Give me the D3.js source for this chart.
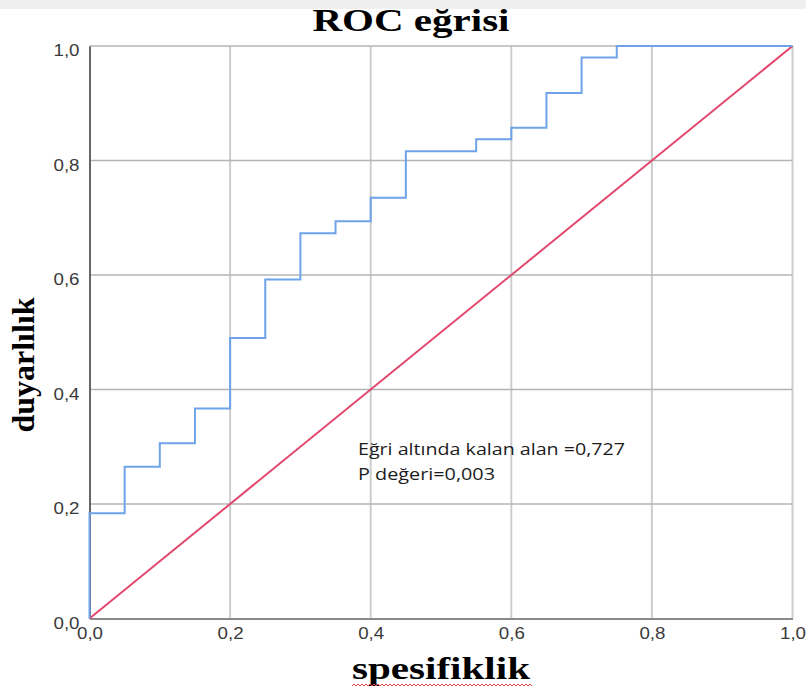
<!DOCTYPE html>
<html>
<head>
<meta charset="utf-8">
<script src="https://cdn.jsdelivr.net/npm/d3@7"></script>
<style>
  body { margin: 0; background: #fff; }
  svg { display: block; }
</style>
</head>
<body>
<script>
// ROC curve points (1 - specificity, sensitivity), drawn as a step curve
const fpr = [0, 0, 0.05, 0.10, 0.15, 0.20, 0.25, 0.30, 0.35, 0.40, 0.45, 0.55, 0.60, 0.65, 0.70, 0.75, 1.0];
const tpr = [0, 0.184, 0.265, 0.306, 0.367, 0.490, 0.592, 0.673, 0.694, 0.735, 0.816, 0.837, 0.857, 0.918, 0.980, 1.0, 1.0];
// reference diagonal
const refX = [0, 1];
const refY = [0, 1];
const ticks = [0, 0.2, 0.4, 0.6, 0.8, 1.0];
const notes = ["Eğri altında kalan alan =0,727", "P değeri=0,003"];

const width = 806, height = 690;
const svg = d3.select("body").append("svg")
  .attr("width", width)
  .attr("height", height);

// faint watermark band at the very top
const band = svg.append("g");
[[0, 115], [135, 240], [260, 360], [380, 480], [500, 620], [640, 806]].forEach(([a, b]) => {
  band.append("path")
    .attr("d", `M${a},0 H${b + 20} L${b},9 H${a - 20} Z`)
    .attr("fill", "#efefef");
});

const x = d3.scaleLinear().domain([0, 1]).range([89.5, 792.5]);
const y = d3.scaleLinear().domain([0, 1]).range([618.5, 46]);

const fmt = d => d3.format(".1f")(d).replace(".", ",");

// grid lines
svg.append("g")
  .selectAll("line")
  .data(ticks.filter(t => t > 0))
  .enter().append("line")
  .attr("x1", d => x(d)).attr("x2", d => x(d))
  .attr("y1", y(1)).attr("y2", y(0))
  .attr("stroke", "#cdcdcd")
  .attr("stroke-width", 2);

svg.append("g")
  .selectAll("line")
  .data(ticks.filter(t => t > 0))
  .enter().append("line")
  .attr("x1", x(0)).attr("x2", x(1))
  .attr("y1", d => y(d)).attr("y2", d => y(d))
  .attr("stroke", "#b4b4b4")
  .attr("stroke-width", 1.3);

// axes
const yAxis = svg.append("g")
  .attr("transform", `translate(${x(0)},0)`)
  .call(d3.axisLeft(y).tickValues(ticks).tickFormat(fmt).tickSize(0).tickPadding(10));
yAxis.select(".domain").attr("stroke", "#666").attr("stroke-width", 2);

const xAxis = svg.append("g")
  .attr("transform", `translate(0,${y(0)})`)
  .call(d3.axisBottom(x).tickValues(ticks).tickFormat(fmt).tickSize(0).tickPadding(9));
xAxis.select(".domain").attr("stroke", "#8a8a8a").attr("stroke-width", 2);

svg.selectAll(".tick text")
  .attr("font-family", "Liberation Sans, Arial, sans-serif")
  .attr("font-size", 16)
  .attr("fill", "#3a3a3a")
  .attr("textLength", 26)
  .attr("lengthAdjust", "spacingAndGlyphs");
yAxis.selectAll(".tick text").attr("dy", "0.62em").attr("x", -10);

// diagonal reference line
const line = d3.line().x(d => x(d[0])).y(d => y(d[1]));
svg.append("path")
  .datum(d3.zip(refX, refY))
  .attr("fill", "none")
  .attr("stroke", "#e2486e")
  .attr("stroke-width", 2)
  .attr("d", line);

// ROC step curve
svg.append("path")
  .datum(d3.zip(fpr, tpr))
  .attr("fill", "none")
  .attr("stroke", "#6ea3e8")
  .attr("stroke-width", 2)
  .attr("d", line.curve(d3.curveStepAfter));

// annotation
svg.append("g")
  .selectAll("text")
  .data(notes)
  .enter().append("text")
  .attr("x", 358)
  .attr("y", (d, i) => 455 + i * 25)
  .attr("font-family", "Open Sans, sans-serif")
  .attr("font-size", 16)
  .attr("fill", "#1c1c1c")
  .attr("textLength", (d, i) => i === 0 ? 267 : 137)
  .attr("lengthAdjust", "spacingAndGlyphs")
  .text(d => d);

// titles
const serif = "Liberation Serif, Times New Roman, serif";
svg.append("text")
  .attr("x", 411).attr("y", 31)
  .attr("text-anchor", "middle")
  .attr("font-family", serif)
  .attr("font-weight", "bold")
  .attr("font-size", 32)
  .attr("textLength", 197)
  .attr("lengthAdjust", "spacingAndGlyphs")
  .text("ROC eğrisi");

svg.append("text")
  .attr("x", 441).attr("y", 679)
  .attr("text-anchor", "middle")
  .attr("font-family", serif)
  .attr("font-weight", "bold")
  .attr("font-size", 32)
  .attr("textLength", 178)
  .attr("lengthAdjust", "spacingAndGlyphs")
  .text("spesifiklik");

// spell-check squiggle under the x label
let sq = "M352,686";
for (let i = 352; i < 530; i += 4) sq += ` L${i + 2},${684} L${i + 4},${686}`;
svg.append("path")
  .attr("d", sq)
  .attr("fill", "none")
  .attr("stroke", "#e84a4a")
  .attr("stroke-width", 1);

svg.append("text")
  .attr("transform", "translate(34,365) rotate(-90)")
  .attr("text-anchor", "middle")
  .attr("font-family", serif)
  .attr("font-weight", "bold")
  .attr("font-size", 32)
  .text("duyarlılık");
</script>
</body>
</html>
